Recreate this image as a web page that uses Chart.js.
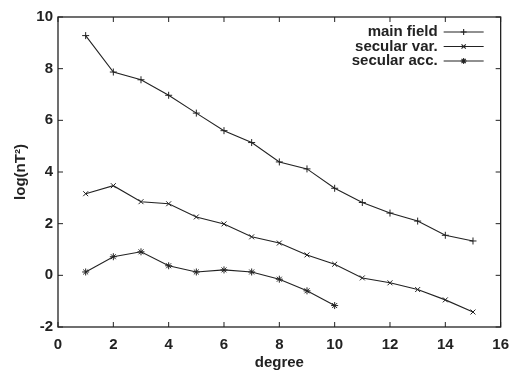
<!DOCTYPE html>
<html>
<head>
<meta charset="utf-8">
<script src="https://cdn.jsdelivr.net/npm/chart.js@4.4.0/dist/chart.umd.min.js"></script>
<style>
  html, body { margin: 0; padding: 0; background: #fff; }
  #wrap { width: 518px; height: 372px; }
</style>
</head>
<body>
<div id="wrap"><canvas id="myChart" width="518" height="372"></canvas></div>
<script>
'use strict';

// values
const degrees = [1, 2, 3, 4, 5, 6, 7, 8, 9, 10, 11, 12, 13, 14, 15];
const mainField = [9.28, 7.87, 7.57, 6.97, 6.28, 5.6, 5.14, 4.39, 4.12, 3.37, 2.82, 2.41, 2.1, 1.55, 1.33];
const secularVar = [3.16, 3.47, 2.85, 2.77, 2.26, 1.99, 1.49, 1.25, 0.79, 0.43, -0.1, -0.29, -0.55, -0.95, -1.42];
const secularAcc = [0.13, 0.72, 0.91, 0.37, 0.13, 0.21, 0.13, -0.15, -0.6, -1.17];
const xTicks = [0, 2, 4, 6, 8, 10, 12, 14, 16];
const yTicks = [-2, 0, 2, 4, 6, 8, 10];
const seriesNames = ['main field', 'secular var.', 'secular acc.'];
const markerStyles = ['cross', 'crossRot', 'star'];

const ink = '#222';
const font = { family: '"Liberation Sans", Arial, sans-serif', size: 15, weight: 'bold' };

function toPoints(values) {
    return values.map((v, i) => ({ x: degrees[i], y: v }));
}

const seriesValues = [mainField, secularVar, secularAcc];
const datasets = seriesValues.map((vals, i) => ({
    label: seriesNames[i],
    data: toPoints(vals),
    borderColor: ink,
    borderWidth: 1.1,
    backgroundColor: ink,
    pointStyle: markerStyles[i],
    pointRadius: 3.5,
    pointBorderWidth: 1,
    pointBorderColor: ink,
    tension: 0,
    fill: false
}));

// frame + inward ticks on all four sides (gnuplot look)
const framePlugin = {
    id: 'frame',
    afterDraw(chart) {
        const { ctx, chartArea: a, scales } = chart;
        ctx.save();
        ctx.strokeStyle = ink;
        ctx.lineWidth = 1.3;
        ctx.strokeRect(a.left, a.top, a.right - a.left, a.bottom - a.top);
        ctx.lineWidth = 1;
        const len = 5;
        ctx.beginPath();
        xTicks.forEach(v => {
            const px = scales.x.getPixelForValue(v);
            ctx.moveTo(px, a.bottom); ctx.lineTo(px, a.bottom - len);
            ctx.moveTo(px, a.top); ctx.lineTo(px, a.top + len);
        });
        yTicks.forEach(v => {
            const py = scales.y.getPixelForValue(v);
            ctx.moveTo(a.left, py); ctx.lineTo(a.left + len, py);
            ctx.moveTo(a.right, py); ctx.lineTo(a.right - len, py);
        });
        ctx.stroke();
        ctx.restore();
    }
};

// legend inside the top right corner: text, then line sample with marker
const legendPlugin = {
    id: 'insideLegend',
    afterDraw(chart) {
        const { ctx, chartArea: a } = chart;
        ctx.save();
        ctx.font = font.weight + ' ' + font.size + 'px ' + font.family;
        ctx.fillStyle = ink;
        ctx.textAlign = 'right';
        ctx.textBaseline = 'middle';
        const textRight = a.right - 63;
        const lineStart = a.right - 57;
        const lineEnd = a.right - 17;
        chart.data.datasets.forEach((ds, i) => {
            const y = a.top + 15 + i * 14.5;
            ctx.fillText(ds.label, textRight, y);
            ctx.strokeStyle = ink;
            ctx.lineWidth = 1.1;
            ctx.beginPath();
            ctx.moveTo(lineStart, y);
            ctx.lineTo(lineEnd, y);
            ctx.stroke();
            Chart.helpers.drawPoint(ctx, {
                pointStyle: ds.pointStyle,
                radius: 3,
                rotation: 0,
                borderWidth: 1
            }, (lineStart + lineEnd) / 2, y);
        });
        ctx.restore();
    }
};

new Chart(document.getElementById('myChart'), {
    type: 'line',
    data: { datasets: datasets },
    options: {
        responsive: false,
        animation: false,
        devicePixelRatio: 1,
        layout: { padding: { top: 17, right: 10, left: 0, bottom: 0 } },
        plugins: {
            legend: { display: false },
            tooltip: { enabled: false }
        },
        scales: {
            x: {
                type: 'linear',
                min: 0,
                max: 16,
                afterBuildTicks: s => { s.ticks = xTicks.map(v => ({ value: v })); },
                afterFit: s => { s.height = 45; },
                grid: { display: false, drawTicks: false },
                border: { display: false },
                ticks: { color: ink, font: font, padding: 9, maxRotation: 0 },
                title: { display: true, text: 'degree', color: ink, font: font, padding: { top: 0, bottom: 0 } }
            },
            y: {
                min: -2,
                max: 10,
                afterBuildTicks: s => { s.ticks = yTicks.map(v => ({ value: v })); },
                afterFit: s => { s.width = 58; },
                grid: { display: false, drawTicks: false },
                border: { display: false },
                ticks: { color: ink, font: font, padding: 5 },
                title: { display: true, text: 'log(nT²)', color: ink, font: font, padding: { top: 12, bottom: 0 } }
            }
        }
    },
    plugins: [framePlugin, legendPlugin]
});
</script>
</body>
</html>
